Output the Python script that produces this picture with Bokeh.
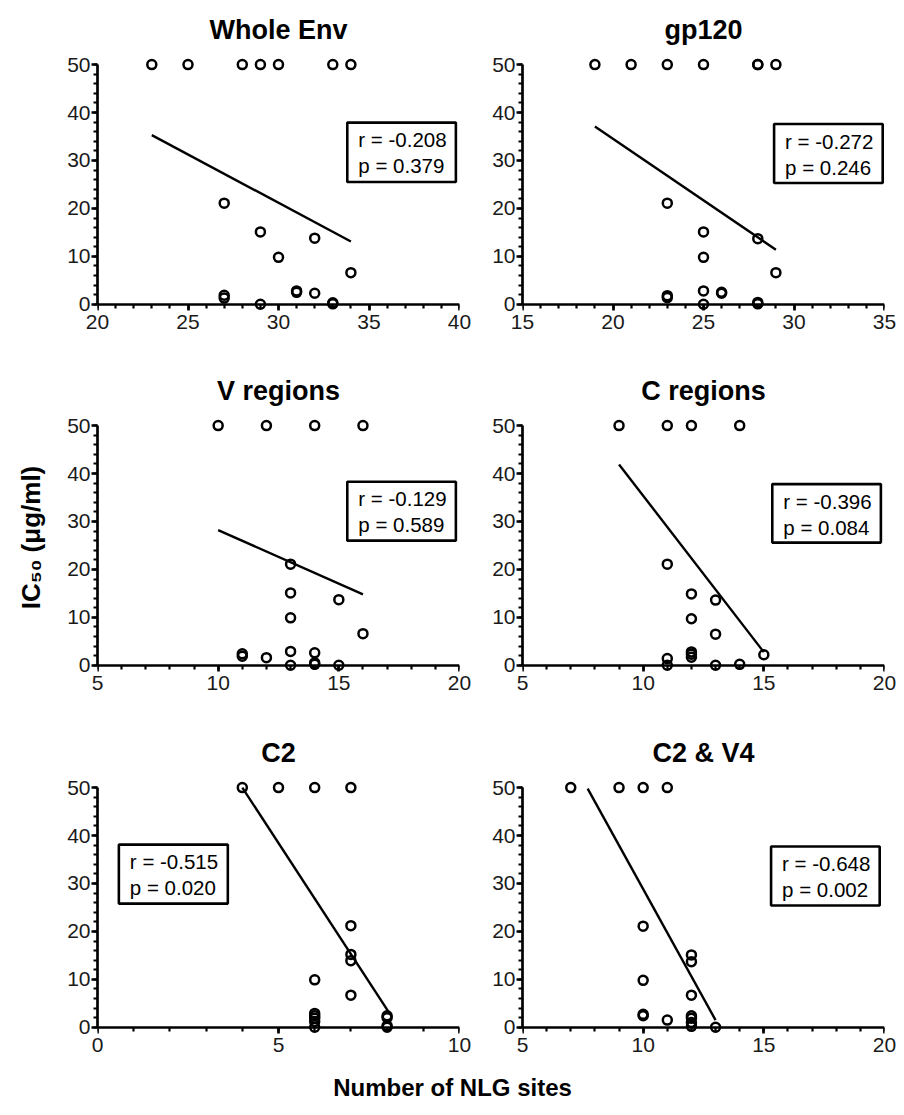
from bokeh.plotting import figure
from bokeh.layouts import column, row
from bokeh.models import SingleIntervalTicker, Range1d, BoxAnnotation, Label, LinearAxis
from bokeh.embed import file_html
from bokeh.resources import INLINE

FONT = "Liberation Sans"

# ---------------- data ----------------
titles = ["Whole Env", "gp120", "V regions", "C regions", "C2", "C2 & V4"]

whole_env_x = [23, 25, 28, 29, 30, 33, 34, 27, 29, 32, 30, 34, 27, 27, 29, 31, 31, 32, 33, 33]
whole_env_y = [50, 50, 50, 50, 50, 50, 50, 21.1, 15.1, 13.8, 9.8, 6.6, 1.9, 1.3, 0, 2.8, 2.5, 2.3, 0.3, 0.1]
whole_env_fit_x = [23, 34]
whole_env_fit_y = [35.3, 13.1]

gp120_x = [19, 21, 23, 25, 28, 28, 29, 23, 25, 28, 25, 29, 23, 23, 25, 26, 26, 25, 28, 28]
gp120_y = [50, 50, 50, 50, 50, 50, 50, 21.1, 15.1, 13.7, 9.8, 6.6, 1.8, 1.4, 2.8, 2.5, 2.3, 0, 0.4, 0.1]
gp120_fit_x = [19, 29]
gp120_fit_y = [37.1, 11.4]

v_x = [10, 12, 14, 16, 13, 13, 15, 13, 16, 11, 11, 12, 13, 14, 13, 14, 14, 15]
v_y = [50, 50, 50, 50, 21.1, 15.1, 13.7, 9.9, 6.6, 2.4, 1.9, 1.6, 2.9, 2.6, 0, 0.5, 0.2, 0]
v_fit_x = [10, 16]
v_fit_y = [28.2, 14.8]

c_x = [9, 11, 12, 14, 11, 12, 13, 12, 13, 11, 12, 12, 12, 15, 11, 13, 14]
c_y = [50, 50, 50, 50, 21.1, 14.9, 13.6, 9.7, 6.5, 1.4, 2.8, 2.3, 1.7, 2.2, 0, 0, 0.2]
c_fit_x = [9, 15]
c_fit_y = [41.9, 2.75]

c2_x = [4, 5, 6, 7, 7, 7, 7, 6, 7, 6, 6, 6, 6, 6, 8, 8, 8, 8]
c2_y = [50, 50, 50, 50, 21.2, 15.2, 13.9, 9.9, 6.7, 2.9, 2.4, 1.9, 1.2, 0, 2.4, 2.0, 0.3, 0]
c2_fit_x = [4, 8.05]
c2_fit_y = [50, 3.1]

c2v4_x = [7, 9, 10, 11, 10, 12, 12, 10, 12, 10, 10, 11, 12, 12, 12, 12, 13]
c2v4_y = [50, 50, 50, 50, 21.1, 15.1, 13.7, 9.8, 6.7, 2.7, 2.4, 1.5, 2.4, 1.9, 1.0, 0.2, 0]
c2v4_fit_x = [7.7, 13.0]
c2v4_fit_y = [49.8, 1.5]

r_texts = ["r = -0.208", "r = -0.272", "r = -0.129", "r = -0.396", "r = -0.515", "r = -0.648"]
p_texts = ["p = 0.379", "p = 0.246", "p = 0.589", "p = 0.084", "p = 0.020", "p = 0.002"]

y_label = "IC\u2085\u2080 (\u03bcg/ml)"
x_label = "Number of NLG sites"

# ---------------- layout settings ----------------
x_limits = [(20, 40), (15, 35), (5, 20), (5, 20), (0, 10), (5, 20)]
# stat box: left, right, top, bottom in data units
boxes = [(33.8, 39.8, 37.9, 25.5), (28.9, 34.9, 37.6, 25.3), (15.35, 19.85, 38.3, 26.0),
         (15.35, 19.85, 37.8, 25.6), (0.59, 3.6, 38.1, 25.8), (15.3, 19.8, 37.7, 25.4)]

xs = [whole_env_x, gp120_x, v_x, c_x, c2_x, c2v4_x]
ys = [whole_env_y, gp120_y, v_y, c_y, c2_y, c2v4_y]
fxs = [whole_env_fit_x, gp120_fit_x, v_fit_x, c_fit_x, c2_fit_x, c2v4_fit_x]
fys = [whole_env_fit_y, gp120_fit_y, v_fit_y, c_fit_y, c2_fit_y, c2v4_fit_y]

FW, FH = 362, 256
Y0, Y1 = -1.5, 51.9
TICK_SIZE = "21px"
YLAB_W = 50
TOPS = [55, 53, 53]
BOTTOMS = [51, 52, 38]
TOTAL_H = 1099


def style_axis(ax):
    ax.axis_line_width = 2.7
    ax.axis_line_color = "black"
    ax.major_tick_line_width = 2.7
    ax.minor_tick_line_width = 2.2
    ax.major_tick_line_color = "black"
    ax.minor_tick_line_color = "black"
    ax.major_tick_in = 0
    ax.minor_tick_in = 0
    ax.major_tick_out = 6
    ax.minor_tick_out = 4
    ax.major_label_text_font = FONT
    ax.major_label_text_font_size = TICK_SIZE
    ax.major_label_text_color = "#1a1a1a"


def make_panel(i):
    left_col = (i % 2 == 0)
    r = i // 2
    p = figure(frame_width=FW, frame_height=FH,
               x_range=Range1d(*x_limits[i]), y_range=Range1d(Y0, Y1),
               output_backend="svg", toolbar_location=None,
               min_border_left=(97 - YLAB_W) if left_col else 51,
               min_border_right=12,
               min_border_top=TOPS[r],
               min_border_bottom=BOTTOMS[r])
    p.outline_line_color = None
    p.grid.visible = False
    p.background_fill_color = "white"
    p.border_fill_color = "white"

    p.title.text = titles[i]
    p.title.align = "center"
    p.title.text_font = FONT
    p.title.text_font_size = "27px"
    p.title.text_font_style = "bold"
    p.title.text_color = "black"
    p.title.standoff = 22

    xa = p.xaxis[0]
    ya = p.yaxis[0]
    xa.ticker = SingleIntervalTicker(interval=5, num_minor_ticks=5)
    ya.ticker = SingleIntervalTicker(interval=10, num_minor_ticks=5)
    # axis line + ticks drawn at y = 0
    xa.fixed_location = 0
    xa.bounds = x_limits[i]
    ya.bounds = (0, 50)
    style_axis(xa)
    style_axis(ya)
    xa.major_label_text_color = None
    ya.major_label_standoff = 1

    # labels-only axis under the frame
    xl = LinearAxis(ticker=SingleIntervalTicker(interval=5, num_minor_ticks=5),
                    bounds=x_limits[i])
    style_axis(xl)
    xl.axis_line_color = None
    xl.major_tick_line_color = None
    xl.minor_tick_line_color = None
    xl.major_tick_out = 0
    xl.minor_tick_out = 0
    xl.major_label_standoff = 3
    p.add_layout(xl, "below")

    p.line(fxs[i], fys[i], line_color="black", line_width=2.4)
    p.scatter(xs[i], ys[i], marker="circle", size=9, fill_color=None,
              line_color="black", line_width=2.5)

    bl, br, bt, bb = boxes[i]
    p.add_layout(BoxAnnotation(left=bl, right=br, top=bt, bottom=bb,
                               fill_color="white", fill_alpha=1.0,
                               line_color="black", line_width=2.6, line_alpha=1.0))
    p.add_layout(Label(x=bl, y=bt, x_offset=11, y_offset=-17, text=r_texts[i],
                       text_font=FONT, text_font_size="20.5px", text_baseline="middle",
                       text_color="black"))
    p.add_layout(Label(x=bl, y=bt, x_offset=11, y_offset=-43, text=p_texts[i],
                       text_font=FONT, text_font_size="20.5px", text_baseline="middle",
                       text_color="black"))
    return p


panels = [make_panel(i) for i in range(6)]

grid_h = sum(TOPS) + sum(BOTTOMS) + 3 * FH

ylab = figure(width=YLAB_W, height=grid_h, x_range=Range1d(0, 1), y_range=Range1d(0, 1),
              output_backend="svg", toolbar_location=None, min_border=0)
ylab.axis.visible = False
ylab.grid.visible = False
ylab.outline_line_color = None
ylab.add_layout(Label(x=30, y=grid_h - 537, x_units="screen", y_units="screen",
                      text=y_label, angle=90, angle_units="deg",
                      text_font=FONT, text_font_size="26px", text_font_style="bold",
                      text_align="center", text_baseline="middle", text_color="black"))

lab_h = TOTAL_H - grid_h
lab = figure(width=896, height=lab_h, x_range=Range1d(0, 1), y_range=Range1d(0, 1),
             output_backend="svg", toolbar_location=None, min_border=0)
lab.axis.visible = False
lab.grid.visible = False
lab.outline_line_color = None
lab.add_layout(Label(x=452, y=lab_h - 1, x_units="screen", y_units="screen", text=x_label,
                     text_font=FONT, text_font_size="24px", text_font_style="bold",
                     text_align="center", text_baseline="top", text_color="black"))

grid = column(row(panels[0], panels[1]), row(panels[2], panels[3]),
              row(panels[4], panels[5]))
layout = column(row(ylab, grid), lab)

open("out.html", "w").write(file_html(layout, INLINE))
